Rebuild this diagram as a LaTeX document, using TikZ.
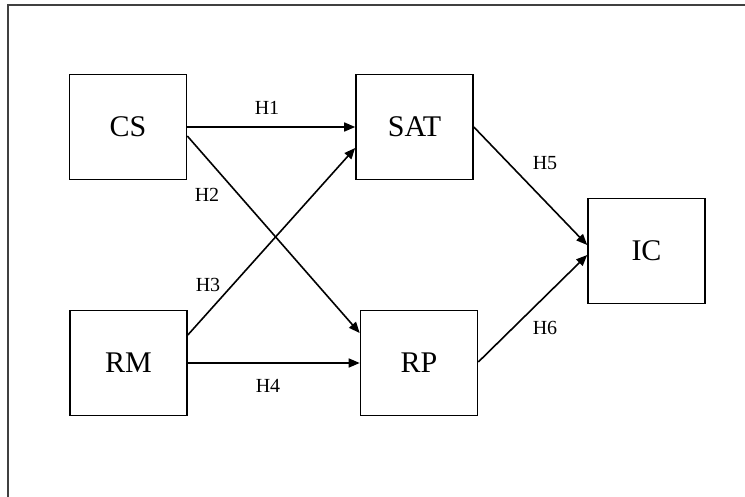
\documentclass[tikz,border=0pt]{standalone}
\usepackage{fontspec}
\setmainfont{Liberation Serif}
\usetikzlibrary{arrows.meta}
\begin{document}
\begin{tikzpicture}[x=1pt,y=1pt,
  box/.style={draw, line width=1.6pt, minimum width=117pt, minimum height=105pt, inner sep=0pt, font=\fontsize{30}{34}\selectfont},
  lbl/.style={inner sep=0pt, font=\fontsize{20}{24}\selectfont},
  conn/.style={line width=1.6pt, -{Triangle[length=11pt,width=9pt]}},
  frame/.style={line width=1.8pt, draw=black!75}]
\useasboundingbox (0,0) rectangle (745,-497);
\draw[frame] (746,-5) -- (8,-5) -- (8,-498);
\node[box] (CS)  at (128,-127) {CS};
\node[box] (SAT) at (414.5,-127) {SAT};
\node[box] (RM)  at (128.5,-363) {RM};
\node[box] (RP)  at (419,-363) {RP};
\node[box] (IC)  at (646.5,-251) {IC};
\draw[conn] (CS.east) -- (SAT.west);
\draw[conn] ([yshift=-9pt]CS.east) -- ([yshift=30pt]RP.west);
\draw[conn] ([yshift=28pt]RM.east) -- ([yshift=-21pt]SAT.west);
\draw[conn] (RM.east) -- (RP.west);
\draw[conn] (SAT.east) -- ([yshift=6pt]IC.west);
\draw[conn] ([yshift=1pt]RP.east) -- ([yshift=-4pt]IC.west);
\node[lbl] (h1) at (267,-108) {H1};
\node[lbl] (h2) at (207,-195) {H2};
\node[lbl] (h3) at (208,-285) {H3};
\node[lbl] (h4) at (268,-386) {H4};
\node[lbl] (h5) at (545,-163) {H5};
\node[lbl] (h6) at (545,-328) {H6};
\end{tikzpicture}
\end{document}
